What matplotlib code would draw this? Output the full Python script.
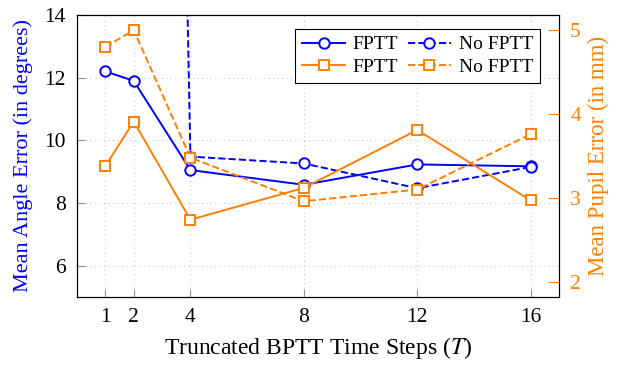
import matplotlib
matplotlib.use("Agg")
import matplotlib.pyplot as plt

plt.rcParams["font.family"] = "Liberation Serif"
plt.rcParams["mathtext.fontset"] = "stix"

steps = [1, 2, 4, 8, 12, 16]
angle_fptt = [12.2, 11.9, 9.05, 8.58, 9.23, 9.17]
angle_nofptt = [60.0, 100.0, 9.48, 9.26, 8.47, 9.15]
pupil_fptt = [3.38, 3.91, 2.74, 3.12, 3.81, 2.97]
pupil_nofptt = [4.8, 5.0, 3.48, 2.96, 3.1, 3.76]

blue = (0, 0, 1)
orange = (1, 0.5, 0)

fig = plt.figure(figsize=(6.26, 3.67), dpi=100)
ax = fig.add_axes([0.123, 0.191, 0.77, 0.768])
ax2 = ax.twinx()

mk = dict(lw=1.4, ms=7.5, mfc="white", mew=1.4)
l1, = ax.plot(steps, angle_fptt, "-o", color=blue, label="FPTT", **mk)
l2, = ax.plot(steps, angle_nofptt, "--o", color=blue, label="No FPTT", **mk)
l3, = ax2.plot(steps, pupil_fptt, "-s", color=orange, label="FPTT", **mk)
l4, = ax2.plot(steps, pupil_nofptt, "--s", color=orange, label="No FPTT", **mk)

ax.set_xlim(0, 17)
ax.set_ylim(5, 14)
ax2.set_ylim(1.82, 5.18)
ax.set_xticks(steps)
ax.set_yticks([6, 8, 10, 12, 14])
ax2.set_yticks([2, 3, 4, 5])

ax.grid(True, color="#c8c8c8", linestyle=(0, (1, 3)), lw=0.8)
ax.set_axisbelow(True)

ax.tick_params(direction="in", labelsize=15.5, length=6, color="#909090", pad=8)
ax.tick_params(axis="y", right=False)
ax2.tick_params(direction="in", labelsize=15.5, length=8, colors=orange, pad=8)

ax.set_xlabel("Truncated BPTT Time Steps ($T$)", fontsize=17, labelpad=6)
ax.set_ylabel("Mean Angle Error (in degrees)", fontsize=16, color=blue, labelpad=8)
ax2.set_ylabel("Mean Pupil Error (in mm)", fontsize=16.5, color=orange, labelpad=5)

leg = ax2.legend([l1, l3, l2, l4], ["FPTT", "FPTT", "No FPTT", "No FPTT"],
                 ncol=2, loc="upper right", fontsize=14, fancybox=False,
                 edgecolor="black", framealpha=1, handlelength=2.2,
                 columnspacing=0.5, handletextpad=0.4, borderpad=0.35,
                 labelspacing=0.25, bbox_to_anchor=(0.98, 0.985))
leg.get_frame().set_linewidth(0.8)

fig.savefig("out.png", dpi=100)
